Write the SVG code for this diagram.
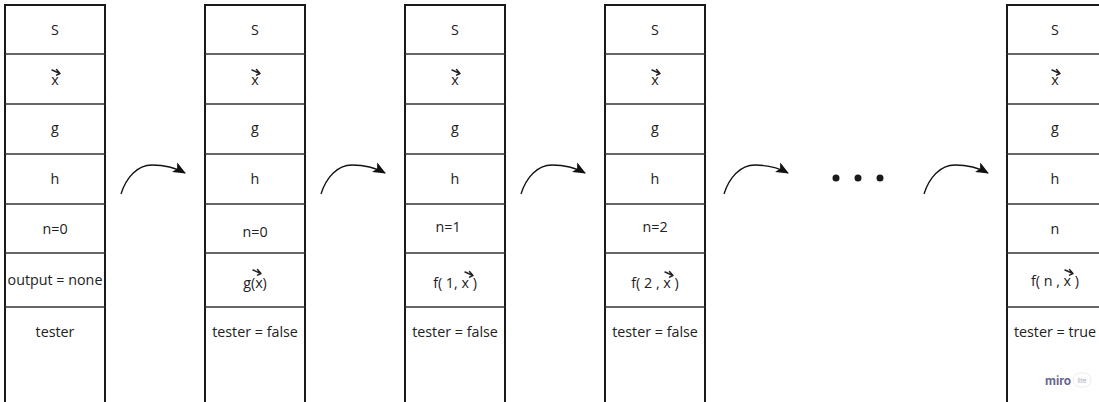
<svg xmlns="http://www.w3.org/2000/svg" width="1099" height="402" viewBox="0 0 1099 402">
<style>
.box{fill:#fff;stroke:#1a1a1a;stroke-width:2}
.sep{stroke:#333;stroke-width:1.3}
.t{font-family:"Open Sans","DejaVu Sans",sans-serif;font-size:14.3px;fill:#222;text-anchor:middle}
.vec{fill:none;stroke:#222;stroke-width:1.4;stroke-linecap:round;stroke-linejoin:round}
.arc{fill:none;stroke:#111;stroke-width:1.3}
</style>
<defs>
<marker id="ah" markerWidth="13" markerHeight="11" refX="12" refY="5.5" orient="auto" markerUnits="userSpaceOnUse">
<path d="M0,0 L13,5.5 L0,11 L3,5.5 Z" fill="#111"/>
</marker>
<g id="v"><path class="vec" d="M-4,-3 L4,0.5 M0.5,-3.5 L4,0.5 L0.5,2.2"/></g>
<g id="rows">
<line class="sep" x1="0" y1="49" x2="100" y2="49"/>
<line class="sep" x1="0" y1="99" x2="100" y2="99"/>
<line class="sep" x1="0" y1="149" x2="100" y2="149"/>
<line class="sep" x1="0" y1="199" x2="100" y2="199"/>
<line class="sep" x1="0" y1="248" x2="100" y2="248"/>
<line class="sep" x1="0" y1="302" x2="100" y2="302"/>
</g>
</defs>

<g id="col1" transform="translate(5,5)">
<rect class="box" x="0" y="0" width="100" height="420"/>
<use href="#rows"/>
<text class="t" x="50" y="30">S</text>
<text class="t" x="50" y="80">x</text><use href="#v" transform="translate(51,68)"/>
<text class="t" x="50" y="128">g</text>
<text class="t" x="50" y="179">h</text>
<text class="t" x="50" y="229">n=0</text>
<text class="t" x="50" y="280">output = none</text>
<text class="t" x="50" y="332">tester</text>
</g>

<g id="col2" transform="translate(205,5)">
<rect class="box" x="0" y="0" width="100" height="420"/>
<use href="#rows"/>
<text class="t" x="50" y="30">S</text>
<text class="t" x="50" y="80">x</text><use href="#v" transform="translate(51,68)"/>
<text class="t" x="50" y="128">g</text>
<text class="t" x="50" y="179">h</text>
<text class="t" x="50" y="232">n=0</text>
<text class="t" x="50" y="283">g(x)</text><use href="#v" transform="translate(52,268)"/>
<text class="t" x="50" y="332">tester = false</text>
</g>

<g id="col3" transform="translate(405,5)">
<rect class="box" x="0" y="0" width="100" height="420"/>
<use href="#rows"/>
<text class="t" x="50" y="30">S</text>
<text class="t" x="50" y="80">x</text><use href="#v" transform="translate(51,68)"/>
<text class="t" x="50" y="128">g</text>
<text class="t" x="50" y="179">h</text>
<text class="t" x="43" y="227">n=1</text>
<text class="t" x="50" y="283">f( 1, x )</text><use href="#v" transform="translate(64,270)"/>
<text class="t" x="50" y="332">tester = false</text>
</g>

<g id="col4" transform="translate(605,5)">
<rect class="box" x="0" y="0" width="100" height="420"/>
<use href="#rows"/>
<text class="t" x="50" y="30">S</text>
<text class="t" x="50" y="80">x</text><use href="#v" transform="translate(51,68)"/>
<text class="t" x="50" y="128">g</text>
<text class="t" x="50" y="179">h</text>
<text class="t" x="50" y="227">n=2</text>
<text class="t" x="50" y="283">f( 2 , x )</text><use href="#v" transform="translate(64,270)"/>
<text class="t" x="50" y="332">tester = false</text>
</g>

<g id="col5" transform="translate(1007,5)">
<rect class="box" x="0" y="0" width="100" height="420"/>
<use href="#rows"/>
<text class="t" x="48" y="30">S</text>
<text class="t" x="48" y="80">x</text><use href="#v" transform="translate(49,68)"/>
<text class="t" x="48" y="128">g</text>
<text class="t" x="48" y="179">h</text>
<text class="t" x="48" y="229">n</text>
<text class="t" x="48" y="281">f( n , x )</text><use href="#v" transform="translate(62,268)"/>
<text class="t" x="48" y="332">tester = true</text>
</g>

<g id="logo">
<text x="1045" y="385" font-family="Inter,'Open Sans',sans-serif" font-size="12" font-weight="700" fill="#6a6890">miro</text>
<rect x="1073" y="373" width="18" height="14" rx="7" fill="#fff" stroke="#ececf2" stroke-width="1"/>
<text x="1082" y="383" text-anchor="middle" font-family="Inter,'Open Sans',sans-serif" font-size="6.5" fill="#a9a9bd">lite</text>
</g>

<g id="connectors">
<path class="arc" d="M121,194 C126,178 137,165 152,165 C165,165 176,168 185,173" marker-end="url(#ah)"/>
<path class="arc" d="M321,194 C326,178 337,165 352,165 C365,165 376,168 385,173" marker-end="url(#ah)"/>
<path class="arc" d="M521,194 C526,178 537,165 552,165 C565,165 576,168 585,173" marker-end="url(#ah)"/>
<path class="arc" d="M724,194 C729,178 740,165 755,165 C768,165 779,168 788,173" marker-end="url(#ah)"/>
<path class="arc" d="M924,194 C929,178 940,165 955,165 C968,165 979,168 988,173" marker-end="url(#ah)"/>
</g>

<g id="dots" fill="#1a1a1a">
<circle cx="836" cy="178" r="3.5"/>
<circle cx="858" cy="178" r="3.5"/>
<circle cx="880" cy="178" r="3.5"/>
</g>
</svg>
